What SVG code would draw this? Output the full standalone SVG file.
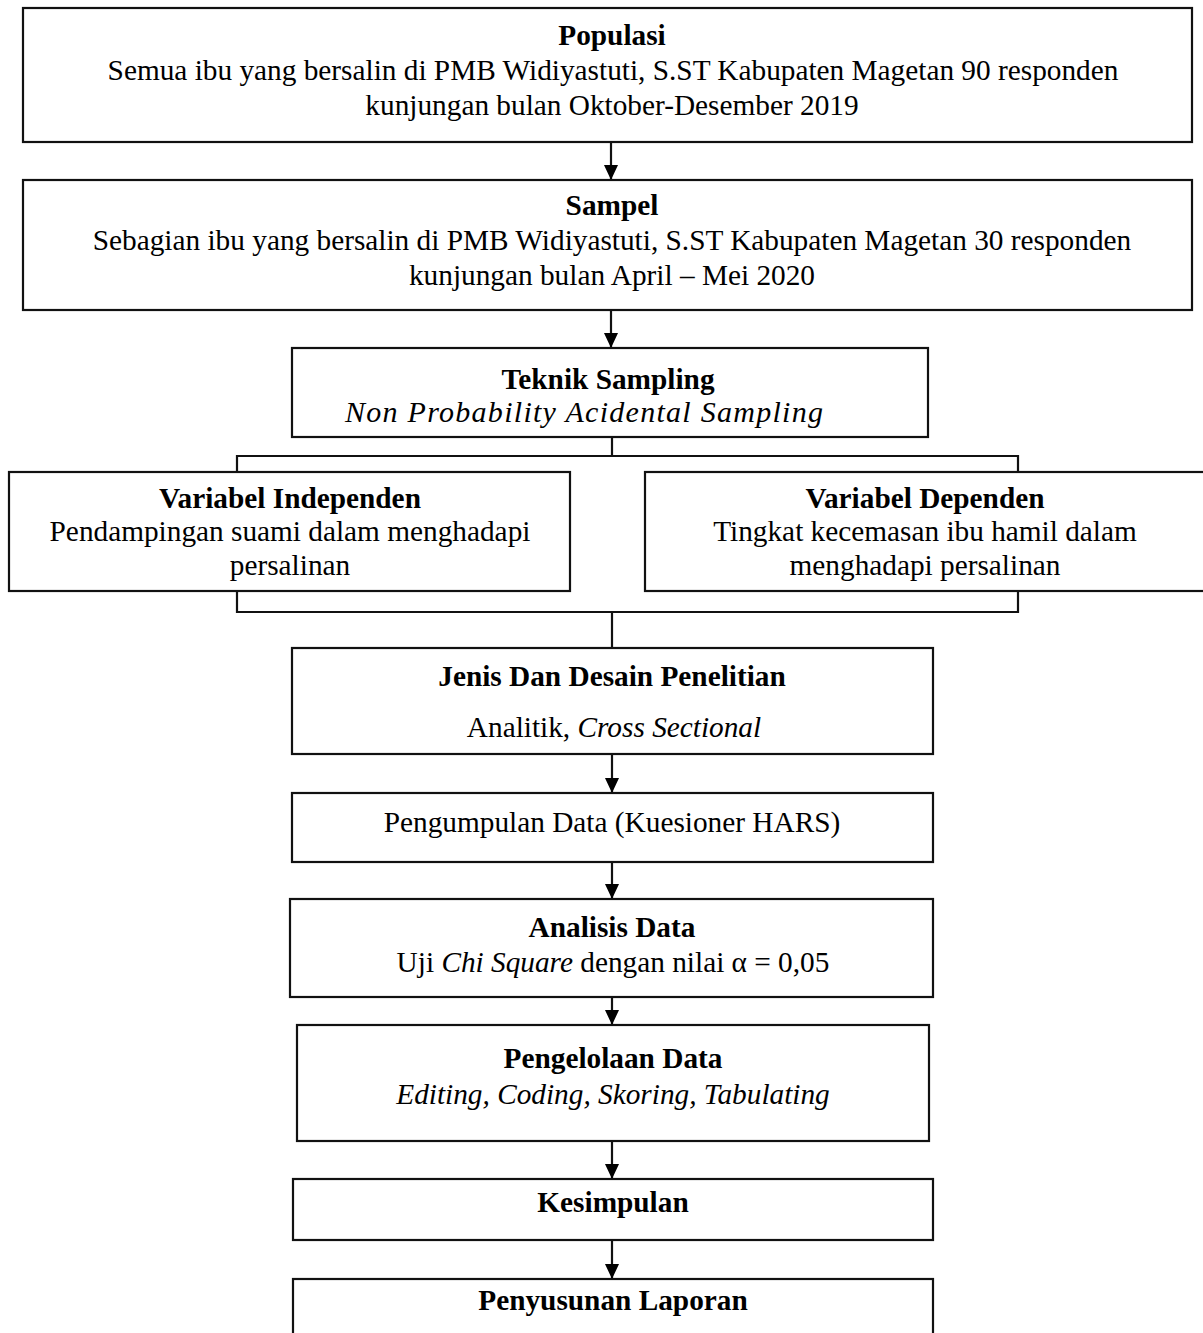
<svg xmlns="http://www.w3.org/2000/svg" width="1203" height="1333" viewBox="0 0 1203 1333">
<defs>
<style>
.box{fill:#fff;stroke:#111;stroke-width:2.2}
.t{font-family:"Liberation Serif","Times New Roman",serif;font-size:29.3px;fill:#000;text-anchor:middle}
.b{font-weight:bold}
.i{font-style:italic}
.ln{fill:none;stroke:#111;stroke-width:2.2}
</style>
<marker id="ah" markerUnits="userSpaceOnUse" markerWidth="15" markerHeight="16" refX="15" refY="7" orient="auto">
<path d="M0,0 L15,7 L0,14 Z" fill="#000"/>
</marker>
</defs>
<rect width="1203" height="1333" fill="#fff"/>

<g id="connectors">
<line class="ln" x1="611" y1="142" x2="611" y2="180" marker-end="url(#ah)"/>
<line class="ln" x1="611" y1="310" x2="611" y2="348" marker-end="url(#ah)"/>
<polyline class="ln" points="612,437 612,456"/>
<polyline class="ln" points="237,472 237,456 1018,456 1018,472"/>
<polyline class="ln" points="237,591 237,612 1018,612 1018,591"/>
<polyline class="ln" points="612,612 612,648"/>
<line class="ln" x1="612" y1="754" x2="612" y2="793" marker-end="url(#ah)"/>
<line class="ln" x1="612" y1="862" x2="612" y2="899" marker-end="url(#ah)"/>
<line class="ln" x1="612" y1="997" x2="612" y2="1025" marker-end="url(#ah)"/>
<line class="ln" x1="612" y1="1141" x2="612" y2="1179" marker-end="url(#ah)"/>
<line class="ln" x1="612" y1="1240" x2="612" y2="1279" marker-end="url(#ah)"/>
</g>

<g id="populasi">
<rect class="box" x="23" y="8" width="1169" height="134"/>
<text class="t b" x="612" y="45">Populasi</text>
<text class="t" x="613" y="80">Semua ibu yang bersalin di PMB Widiyastuti, S.ST Kabupaten Magetan 90 responden</text>
<text class="t" x="612" y="115">kunjungan bulan Oktober-Desember 2019</text>
</g>

<g id="sampel">
<rect class="box" x="23" y="180" width="1169" height="130"/>
<text class="t b" x="612" y="215">Sampel</text>
<text class="t" x="612" y="250">Sebagian ibu yang bersalin di PMB Widiyastuti, S.ST Kabupaten Magetan 30 responden</text>
<text class="t" x="612" y="285">kunjungan bulan April – Mei 2020</text>
</g>

<g id="teknik">
<rect class="box" x="292" y="348" width="636" height="89"/>
<text class="t b" x="608" y="389">Teknik Sampling</text>
<text class="t i" x="584" y="422" style="font-size:30px" textLength="478" lengthAdjust="spacing">Non Probability Acidental Sampling</text>
</g>

<g id="independen">
<rect class="box" x="9" y="472" width="561" height="119"/>
<text class="t b" x="290" y="508">Variabel Independen</text>
<text class="t" x="290" y="541">Pendampingan suami dalam menghadapi</text>
<text class="t" x="290" y="575">persalinan</text>
</g>

<g id="dependen">
<rect class="box" x="645" y="472" width="570" height="119"/>
<text class="t b" x="925" y="508">Variabel Dependen</text>
<text class="t" x="925" y="541">Tingkat kecemasan ibu hamil dalam</text>
<text class="t" x="925" y="575">menghadapi persalinan</text>
</g>

<g id="jenis">
<rect class="box" x="292" y="648" width="641" height="106"/>
<text class="t b" x="612" y="686">Jenis Dan Desain Penelitian</text>
<text class="t" x="614" y="737">Analitik, <tspan class="i">Cross Sectional</tspan></text>
</g>

<g id="pengumpulan">
<rect class="box" x="292" y="793" width="641" height="69"/>
<text class="t" x="612" y="832">Pengumpulan Data (Kuesioner HARS)</text>
</g>

<g id="analisis">
<rect class="box" x="290" y="899" width="643" height="98"/>
<text class="t b" x="612" y="937">Analisis Data</text>
<text class="t" x="613" y="972">Uji <tspan class="i">Chi Square</tspan> dengan nilai α = 0,05</text>
</g>

<g id="pengelolaan">
<rect class="box" x="297" y="1025" width="632" height="116"/>
<text class="t b" x="613" y="1068">Pengelolaan Data</text>
<text class="t i" x="613" y="1104">Editing, Coding, Skoring, Tabulating</text>
</g>

<g id="kesimpulan">
<rect class="box" x="293" y="1179" width="640" height="61"/>
<text class="t b" x="613" y="1212">Kesimpulan</text>
</g>

<g id="penyusunan">
<rect class="box" x="293" y="1279" width="640" height="100"/>
<text class="t b" x="613" y="1310">Penyusunan Laporan</text>
</g>
</svg>
